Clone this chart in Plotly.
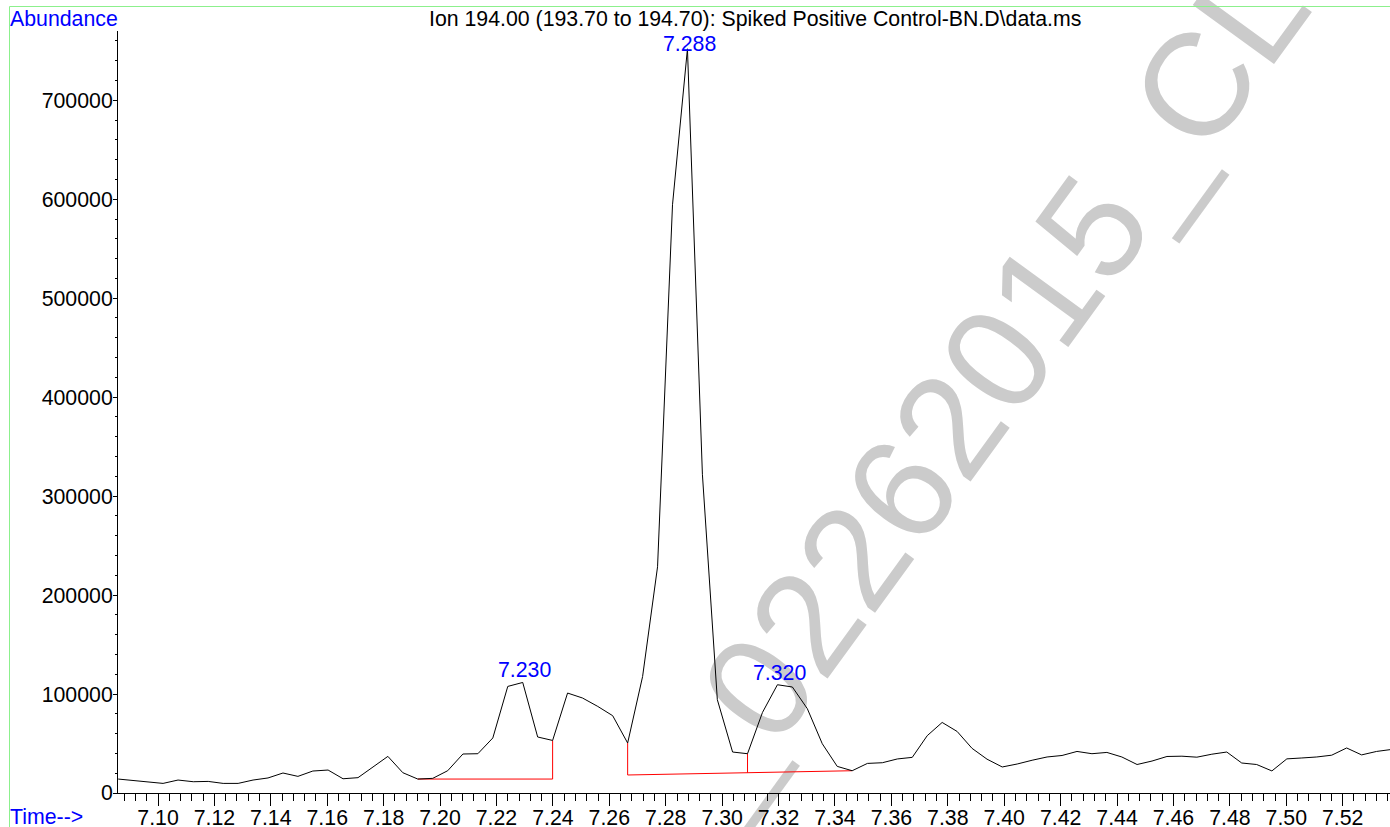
import plotly.graph_objects as go

# ---------------- data ----------------
times = [7.0859, 7.0912, 7.0965, 7.1018, 7.1071, 7.1125, 7.1178, 7.1231, 7.1284, 7.1337,
         7.1390, 7.1443, 7.1496, 7.1549, 7.1603, 7.1656, 7.1709, 7.1762, 7.1815, 7.1868,
         7.1921, 7.1974, 7.2027, 7.2081, 7.2134, 7.2187, 7.2240, 7.2293, 7.2346, 7.2399,
         7.2452, 7.2505, 7.2559, 7.2612, 7.2665, 7.2718, 7.2771, 7.2824, 7.2877, 7.2930,
         7.2983, 7.3037, 7.3090, 7.3143, 7.3196, 7.3249, 7.3302, 7.3355, 7.3408, 7.3461,
         7.3515, 7.3568, 7.3621, 7.3674, 7.3727, 7.3780, 7.3833, 7.3886, 7.3939, 7.3993,
         7.4046, 7.4099, 7.4152, 7.4205, 7.4258, 7.4311, 7.4364, 7.4417, 7.4471, 7.4524,
         7.4577, 7.4630, 7.4683, 7.4736, 7.4789, 7.4842, 7.4895, 7.4949, 7.5002, 7.5055,
         7.5108, 7.5161, 7.5214, 7.5267, 7.5320, 7.5373]

abundance = [14100, 12400, 11400, 9700, 13100, 11400, 11700, 9700, 9700, 13100,
             15200, 20200, 16800, 22200, 23200, 14400, 15500, 26600, 37000, 20500,
             14100, 14800, 22500, 39400, 39700, 55600, 107700, 111700, 56600, 53100,
             101000, 96000, 87500, 78100, 50500, 117700, 228600, 594400, 752000, 322100,
             94300, 41400, 39700, 81400, 109400, 107100, 85200, 49800, 26900, 22500,
             29900, 30600, 34400, 36000, 57900, 71300, 62200, 45100, 34200, 26300,
             29300, 33100, 36400, 37900, 42000, 39700, 41000, 36400, 28800, 32300,
             36900, 37200, 36200, 39200, 41400, 30300, 28800, 22300, 34500, 35400,
             36400, 38200, 45500, 38500, 42000, 44000]

# integration baselines (segments separated by None)
baseline_times = [7.1921, 7.2399, 7.2399, None,
                  7.2665, 7.2665, 7.3461, None,
                  7.3090, 7.3090]
baseline_values = [14100, 14100, 53100, None,
                   50500, 18200, 22500, None,
                   20500, 39700]

peak_times = [7.2293, 7.2877, 7.3196]
peak_heights = [111700, 752000, 109400]
peak_labels = ["7.230", "7.288", "7.320"]

x_tick_vals = [7.10, 7.12, 7.14, 7.16, 7.18, 7.20, 7.22, 7.24, 7.26, 7.28, 7.30,
               7.32, 7.34, 7.36, 7.38, 7.40, 7.42, 7.44, 7.46, 7.48, 7.50, 7.52]
x_tick_text = ["7.10", "7.12", "7.14", "7.16", "7.18", "7.20", "7.22", "7.24", "7.26",
               "7.28", "7.30", "7.32", "7.34", "7.36", "7.38", "7.40", "7.42", "7.44",
               "7.46", "7.48", "7.50", "7.52"]
y_tick_vals = [0, 100000, 200000, 300000, 400000, 500000, 600000, 700000]
y_tick_text = ["0", "100000", "200000", "300000", "400000", "500000", "600000", "700000"]

title_text = "Ion 194.00 (193.70 to 194.70): Spiked Positive Control-BN.D\\data.ms"
watermark_text = "_02262015_CL"

# ---------------- layout geometry ----------------
W, H = 1390, 827
ML, MR, MT, MB = 118, 0, 31, 34
PW = W - ML - MR
PH = H - MT - MB
FONT = "Liberation Sans, Arial, Helvetica, sans-serif"
FS = 21.3


def px_x(px):
    return (px - ML) / PW


def px_y(py):
    return (H - MB - py) / PH


fig = go.Figure()

fig.add_trace(go.Scatter(
    x=baseline_times, y=baseline_values, mode="lines",
    line=dict(color="#ff0000", width=1), connectgaps=False, hoverinfo="skip",
    showlegend=False))

fig.add_trace(go.Scatter(
    x=times, y=abundance, mode="lines",
    line=dict(color="#000000", width=1), showlegend=False))

for t, h, lab in zip(peak_times, peak_heights, peak_labels):
    fig.add_annotation(x=t, y=h, xref="x", yref="y", text=lab, showarrow=False,
                       xanchor="center", yanchor="middle",
                       yshift=(5 if h > 500000 else 12), xshift=2,
                       font=dict(family=FONT, size=FS, color="#0000ff"))

# header / footer texts
fig.add_annotation(x=px_x(8), y=px_y(19), xref="paper", yref="paper", text="Abundance",
                   showarrow=False, xanchor="left", yanchor="middle",
                   font=dict(family=FONT, size=FS, color="#0000ff"))
fig.add_annotation(x=px_x(8), y=px_y(817), xref="paper", yref="paper", text="Time-->",
                   showarrow=False, xanchor="left", yanchor="middle",
                   font=dict(family=FONT, size=FS, color="#0000ff"))
fig.add_annotation(x=px_x(755), y=px_y(19), xref="paper", yref="paper", text=title_text,
                   showarrow=False, xanchor="center", yanchor="middle",
                   font=dict(family=FONT, size=FS, color="#000000"))

# watermark (below the traces)
cx, cy = 969, 374
dx, dy = 0.588, -0.809
L = 300
fig.add_shape(type="line", xref="paper", yref="paper", layer="below",
              x0=px_x(cx - dx * L), y0=px_y(cy - dy * L),
              x1=px_x(cx + dx * L), y1=px_y(cy + dy * L),
              line=dict(width=0, color="rgba(0,0,0,0)"),
              label=dict(text=watermark_text, textposition="middle",
                         yanchor="middle", xanchor="center", textangle=-54,
                         font=dict(family=FONT, size=146, color="#cbcbcb")))

# green frame (top and left edges)
frame = dict(color="#8cf08c", width=1)
fig.add_shape(type="line", xref="paper", yref="paper",
              x0=px_x(9.5), x1=px_x(1392), y0=px_y(6.5), y1=px_y(6.5), line=frame)
fig.add_shape(type="line", xref="paper", yref="paper",
              x0=px_x(9.5), x1=px_x(9.5), y0=px_y(6.5), y1=px_y(830), line=frame)

fig.update_layout(
    width=W, height=H,
    margin=dict(l=ML, r=MR, t=MT, b=MB, pad=0),
    paper_bgcolor="white", plot_bgcolor="white",
    font=dict(family=FONT, size=FS, color="black"),
    showlegend=False,
)

fig.update_xaxes(
    range=[7.08582, 7.53677], tickvals=x_tick_vals, ticktext=x_tick_text,
    automargin=False,
    showline=True, linecolor="black", linewidth=1, mirror=False,
    ticks="outside", ticklen=12, tickcolor="black", tickwidth=1,
    ticklabelstandoff=-7,
    minor=dict(dtick=0.004, tick0=7.10, ticks="outside", ticklen=7,
               tickcolor="black", tickwidth=1),
    showgrid=False, zeroline=False,
    tickfont=dict(family=FONT, size=FS, color="black"),
)
fig.update_yaxes(
    range=[0, 770000], tickvals=y_tick_vals, ticktext=y_tick_text,
    automargin=False,
    showline=True, linecolor="black", linewidth=1,
    ticks="outside", ticklen=4, tickcolor="black", tickwidth=1,
    ticklabelstandoff=-4,
    minor=dict(dtick=20000, tick0=0, ticks="outside", ticklen=2,
               tickcolor="black", tickwidth=1),
    showgrid=False, zeroline=False,
    tickfont=dict(family=FONT, size=FS, color="black"),
)

fig.write_html("out.html")
